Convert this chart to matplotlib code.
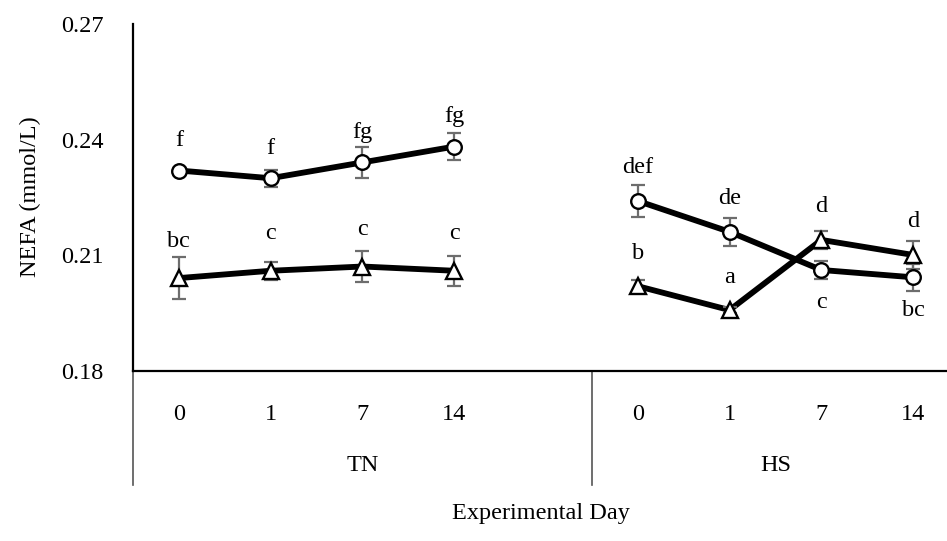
import matplotlib
matplotlib.use("Agg")
import matplotlib.pyplot as plt
import matplotlib.transforms as mtransforms
from matplotlib.lines import Line2D

# data
days = ['0', '1', '7', '14']
groups = ['TN', 'HS']

circ_tn = [0.2320, 0.2300, 0.2341, 0.2382]
circ_tn_err = [0.0004, 0.0022, 0.0041, 0.0036]
circ_tn_lbl = ['f', 'f', 'fg', 'fg']

tri_tn = [0.2041, 0.2060, 0.2071, 0.2060]
tri_tn_err = [0.0054, 0.0023, 0.0039, 0.0039]
tri_tn_lbl = ['bc', 'c', 'c', 'c']

circ_hs = [0.2241, 0.2161, 0.2062, 0.2043]
circ_hs_err = [0.0041, 0.0036, 0.0023, 0.0035]
circ_hs_lbl = ['def', 'de', 'c', 'bc']

tri_hs = [0.2020, 0.1958, 0.2140, 0.2101]
tri_hs_err = [0.0015, 0.0008, 0.0024, 0.0036]
tri_hs_lbl = ['b', 'a', 'd', 'd']

plt.rcParams['font.family'] = ['Liberation Serif', 'DejaVu Serif']
plt.rcParams['font.size'] = 17.5

fig = plt.figure(figsize=(9.47, 5.41), dpi=100)
ax = fig.add_axes([133/947, 170/541, 826/947, 347/541])

x_tn = [0, 1, 2, 3]
x_hs = [5, 6, 7, 8]

series = [
    (x_tn, circ_tn, circ_tn_err, circ_tn_lbl, 'o', 30),
    (x_tn, tri_tn, tri_tn_err, tri_tn_lbl, '^', 37),
    (x_hs, circ_hs, circ_hs_err, circ_hs_lbl, 'o', 33),
    (x_hs, tri_hs, tri_hs_err, tri_hs_lbl, '^', 33),
]
below = {('c', 7, 0.2062), ('bc', 8, 0.2043)}

for xs, ys, es, lbls, mk, off in series:
    ax.plot(xs, ys, color='black', lw=4.2, zorder=2, solid_capstyle='butt')
    ax.errorbar(xs, ys, yerr=es, fmt='none', ecolor='#6d6d6d', elinewidth=1.6,
                capsize=5, capthick=1.6, zorder=3)
    ax.plot(xs, ys, ls='none', marker=mk, markersize=10.5 if mk == 'o' else 11,
            markerfacecolor='white', markeredgecolor='black', markeredgewidth=1.7,
            zorder=4)
    for x, y, t in zip(xs, ys, lbls):
        dy = -off if (t, x, y) in below else off
        ax.annotate(t, (x, y), xytext=(0, dy), textcoords='offset pixels',
                    ha='center', va='center')

ax.set_xlim(-0.5, 8.5)
ax.set_ylim(0.18, 0.27)
ax.set_yticks([0.18, 0.21, 0.24, 0.27])
ax.set_yticklabels(['0.18', '0.21', '0.24', '0.27'])
ax.set_xticks(x_tn + x_hs)
ax.set_xticklabels(days + days)
ax.tick_params(axis='y', length=0, pad=21)
ax.tick_params(axis='x', length=0, pad=24)

for s in ['top', 'right']:
    ax.spines[s].set_visible(False)
ax.spines['left'].set_linewidth(1.6)
ax.spines['bottom'].set_linewidth(1.6)

# group labels and separators under the axis
trans = mtransforms.blended_transform_factory(ax.transData, ax.transAxes)
ax.text(2.0, -0.271, groups[0], transform=trans, ha='center', va='center')
ax.text(6.5, -0.271, groups[1], transform=trans, ha='center', va='center')
for xv in [-0.5, 4.5]:
    ax.add_line(Line2D([xv, xv], [0, -0.3285], transform=trans, color='#555555',
                       lw=1.2, clip_on=False))

fig.text(541/947, 1 - 513/541, 'Experimental Day', ha='center', va='center')
fig.text(30/947, 1 - 197/541, 'NEFA (mmol/L)', ha='center', va='center',
         rotation=90)

plt.savefig('out.png')
